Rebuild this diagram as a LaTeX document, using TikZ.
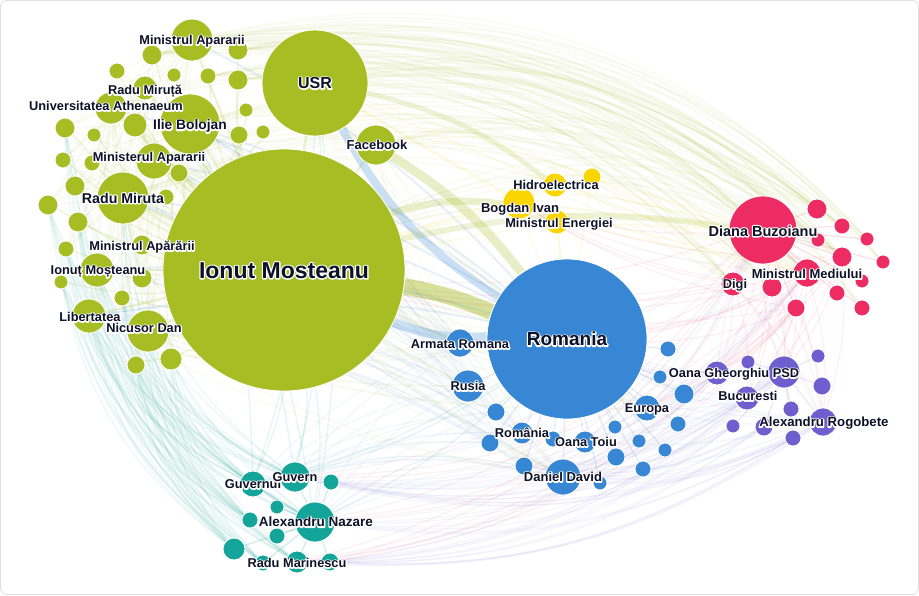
\documentclass[tikz,border=0pt]{standalone}
\usepackage{fontspec}
\setmainfont{Liberation Sans}
\definecolor{cG}{RGB}{166,190,36}
\definecolor{cY}{RGB}{250,214,0}
\definecolor{cP}{RGB}{236,44,98}
\definecolor{cB}{RGB}{55,135,212}
\definecolor{cV}{RGB}{111,94,206}
\definecolor{cT}{RGB}{20,165,154}
\definecolor{cTx}{RGB}{14,18,40}
\pgfdeclarelayer{bg}
\pgfdeclarelayer{edges}
\pgfsetlayers{bg,edges,main}
\tikzset{
  nd/.style={circle,inner sep=0pt,minimum size={2*#1*1pt},draw=white,line width=0.8pt},
  lbl/.style={inner sep=0pt,text=cTx,anchor=base},
  eG/.style={draw=cG,line width=1.4pt,opacity=0.08},
  eB/.style={draw=cB,line width=1.4pt,opacity=0.08},
  eP/.style={draw=cP,line width=1.2pt,opacity=0.07},
  eV/.style={draw=cV,line width=1.2pt,opacity=0.06},
  eT/.style={draw=cT,line width=1.4pt,opacity=0.07},
  eY/.style={draw=cY,line width=1.4pt,opacity=0.10},
}
\newcommand\halo[1]{\leavevmode\rlap{\special{pdf:literal direct q 1 Tr 2.6 w 1 j 1 1 1 RG}#1\special{pdf:literal direct Q}}#1}
\newcommand\cn[4]{\node[nd=#4,fill=#1] (#2) at (#3) {};}
\newcommand\lb[4]{\node[lbl,font=\bfseries\fontsize{#3}{#3}\selectfont,yshift={-0.36*#3pt}] (#1) at (#2) {\halo{#4}};}
\begin{document}
\begin{tikzpicture}[x=1pt,y=-1pt]
\useasboundingbox (0,0) rectangle (919,595);
\begin{pgfonlayer}{bg}
\fill[white] (0,0) rectangle (919,595);
\draw[black!12,line width=0.8pt,rounded corners=6pt] (0.5,0.5) rectangle (918.5,594.5);
\end{pgfonlayer}
% ---------- green ----------
\cn{cG}{g1}{152,55}{10}
\cn{cG}{g2}{117,71}{8}
\cn{cG}{g3}{174,75}{7}
\cn{cG}{g4}{208,76}{8}
\cn{cG}{g5}{238,50}{10}
\cn{cG}{g6}{238,80}{10}
\cn{cG}{g7}{246,110}{7}
\cn{cG}{g8}{239,135}{9}
\cn{cG}{g9}{263,132}{7}
\cn{cG}{g10}{65,128}{10}
\cn{cG}{g11}{94,135}{7}
\cn{cG}{g12}{135,125}{12}
\cn{cG}{g13}{63,160}{8}
\cn{cG}{g14}{92,163}{8}
\cn{cG}{g15}{179,173}{9}
\cn{cG}{g16}{75,186}{10}
\cn{cG}{g17}{48,205}{10}
\cn{cG}{g18}{78,222}{10}
\cn{cG}{g19}{66,249}{8}
\cn{cG}{g20}{166,197}{8}
\cn{cG}{g21}{142,278}{10}
\cn{cG}{g22}{122,298}{8}
\cn{cG}{g23}{171,359}{11}
\cn{cG}{g24}{136,365}{9}
\cn{cG}{g25}{61,282}{7}
\cn{cG}{MA}{192,40}{21}
\cn{cG}{RMt}{145,88}{12}
\cn{cG}{UA}{111,108}{16}
\cn{cG}{IB}{190,124}{30}
\cn{cG}{MeA}{154,161}{18}
\cn{cG}{RM}{123,198}{26}
\cn{cG}{MAp}{142,245}{10}
\cn{cG}{IMo}{97,270}{17}
\cn{cG}{LIB}{89,316}{17}
\cn{cG}{NDn}{148,331}{21}
\cn{cG}{USR}{315,83}{53}
\cn{cG}{FB}{376,145}{20}
\cn{cG}{IM}{284,270}{121}
% ---------- yellow ----------
\cn{cY}{HE}{555,185}{12}
\cn{cY}{Y2}{592,177}{9}
\cn{cY}{BI}{519,203}{16}
\cn{cY}{ME}{557,222}{12}
% ---------- pink ----------
\cn{cP}{DB}{763,230}{34}
\cn{cP}{p1}{817,209}{10}
\cn{cP}{p2}{842,226}{8}
\cn{cP}{p3}{867,239}{7}
\cn{cP}{p4}{883,262}{7}
\cn{cP}{p5}{818,240}{7}
\cn{cP}{p6}{842,257}{10}
\cn{cP}{MM}{807,273}{14}
\cn{cP}{p7}{862,281}{7}
\cn{cP}{p8}{772,287}{10}
\cn{cP}{DG}{733,284}{12}
\cn{cP}{p9}{837,293}{8}
\cn{cP}{p10}{796,308}{9}
\cn{cP}{p11}{862,308}{8}
% ---------- blue ----------
\cn{cB}{RO}{567,339}{80}
\cn{cB}{AR}{460,343}{14}
\cn{cB}{RU}{468,386}{16}
\cn{cB}{b1}{496,412}{9}
\cn{cB}{RA}{522,433}{11}
\cn{cB}{b2}{490,443}{9}
\cn{cB}{b3}{553,439}{8}
\cn{cB}{OT}{585,442}{11}
\cn{cB}{b4}{615,427}{7}
\cn{cB}{b5}{616,457}{9}
\cn{cB}{b6}{524,466}{9}
\cn{cB}{DD}{563,477}{18}
\cn{cB}{b7}{600,483}{7}
\cn{cB}{b8}{639,441}{7}
\cn{cB}{b9}{643,469}{8}
\cn{cB}{b10}{665,450}{7}
\cn{cB}{b11}{668,349}{8}
\cn{cB}{b12}{660,377}{7}
\cn{cB}{b13}{684,394}{10}
\cn{cB}{EU}{647,408}{13}
\cn{cB}{b14}{678,424}{8}
% ---------- purple ----------
\cn{cV}{OG}{717,373}{12}
\cn{cV}{q1}{748,362}{7}
\cn{cV}{PSD}{784,372}{16}
\cn{cV}{q2}{818,356}{7}
\cn{cV}{q3}{822,386}{9}
\cn{cV}{BU}{747,398}{12}
\cn{cV}{q4}{791,409}{8}
\cn{cV}{q5}{733,426}{7}
\cn{cV}{q6}{764,427}{9}
\cn{cV}{AG}{823,422}{14}
\cn{cV}{q7}{793,438}{8}
% ---------- teal ----------
\cn{cT}{GU}{253,484}{13}
\cn{cT}{GV}{295,477}{15}
\cn{cT}{t1}{331,482}{8}
\cn{cT}{t2}{277,507}{7}
\cn{cT}{t3}{250,520}{8}
\cn{cT}{AN}{315,522}{20}
\cn{cT}{t4}{277,536}{8}
\cn{cT}{t5}{234,549}{11}
\cn{cT}{t6}{263,563}{8}
\cn{cT}{RMa}{297,562}{11}
\cn{cT}{t7}{330,562}{9}
% ---------- edges ----------
\begin{pgfonlayer}{edges}
% green cluster
\foreach \i in {1,...,25} \draw[eG,opacity=.16] (IM) to[bend left=8] (g\i);
\foreach \n in {MA,RMt,UA,IB,MeA,RM,MAp,IMo,LIB,NDn,USR,FB}
  \draw[eG,opacity=.2,line width=2.5pt] (IM) -- (\n);
\foreach \a in {IB,RM,MeA,UA,RMt,MA}
  \foreach \b in {g1,g2,g10,g13,g16,g17,g18,g19,g21,g22,g23,g24,IMo,LIB,NDn}
    \draw[eG,opacity=.06] (\a) -- (\b);
% green arcs across the top towards the pink cluster
\foreach \a in {MA,USR,FB,IB,g5,g6,g1,g4,IM,MeA,RM}
  \foreach \b in {DB,p1,p2,p6,MM,DG,p8,p5}
    \draw[eG,opacity=.06] (\a) to[bend left=24] (\b);
\foreach \a in {MA,g1,g5,USR,UA}
  \foreach \b in {p3,p4,p7,p11}
    \draw[eG,opacity=.06] (\a) to[bend left=30] (\b);
% green towards the blue cluster
\foreach \a in {IB,RM,MeA,UA,g12,g15,NDn,LIB,USR,FB}
  \foreach \b in {RO,AR,RU,EU,DD}
    \draw[eG,opacity=.05] (\a) to[bend right=10] (\b);
% thick bands
\draw[cG,opacity=.45,line width=16pt] (IM) to[bend left=6] (RO);
\draw[cB,opacity=.25,line width=9pt] (IM) to[bend right=12] (RO);
\draw[cB,opacity=.25,line width=8pt] (USR) to[bend right=14] (RO);
\draw[cG,opacity=.25,line width=9pt] (FB) to[bend left=10] (RO);
\draw[cG,opacity=.22,line width=7pt] (IM) to[bend left=12] (BI);
\draw[cG,opacity=.18,line width=6pt] (IM) to[bend left=10] (DB);
\draw[cG,opacity=.18,line width=5pt] (USR) to[bend left=12] (HE);
% blue
\foreach \b in {AR,RU,RA,OT,DD,EU,b1,b2,b3,b4,b5,b6,b7,b8,b9,b10,b11,b12,b13,b14}
  \draw[eB,opacity=.15] (RO) -- (\b);
\foreach \b in {IB,RM,MeA,MA,UA,LIB,IMo}
  \draw[eB,opacity=.12,line width=2pt] (RO) to[bend right=10] (\b);
\foreach \a in {AR,RU,RA,DD,b1,b2,b6}
  \foreach \b in {IB,RM,MeA,LIB,IMo,NDn,GU,AN,GV}
    \draw[eB,opacity=.05] (\a) to[bend right=12] (\b);
\foreach \a in {RO,EU,DD,OT}
  \foreach \b in {OG,PSD,BU,AG,DB,MM}
    \draw[eB,opacity=.06] (\a) to[bend right=8] (\b);
% yellow
\foreach \a in {HE,BI,ME,Y2}
  \foreach \b in {IM,RO,DB,USR,MM}
    \draw[eY] (\a) -- (\b);
% pink
\foreach \b in {p1,p2,p3,p4,p5,p6,MM,p7,p8,DG,p9,p10,p11}
  \draw[eP,opacity=.15] (DB) -- (\b);
\foreach \a in {DB,MM,p8,p10,DG,p6}
  \foreach \b in {RO,OG,PSD,AG,EU,BU,IM,BI}
    \draw[eP] (\a) to[bend left=10] (\b);
\foreach \a in {DB,MM,p10}
  \foreach \b in {AN,RMa,t7,GV}
    \draw[eP] (\a) to[bend left=20] (\b);
% purple
\foreach \b in {OG,q1,q2,q3,BU,q4,q5,q6,AG,q7}
  \draw[eV,opacity=.15] (PSD) -- (\b);
\foreach \a in {AG,PSD,q7,q6,q5,BU,OG}
  \foreach \b in {AN,RMa,t7,t1,GV,DD,b6}
    \draw[eV] (\a) to[bend left=18] (\b);
\foreach \a in {AG,PSD,OG}
  \foreach \b in {IM,RO,DB}
    \draw[eV] (\a) to[bend left=10] (\b);
% teal
\foreach \b in {GU,GV,t1,t2,t3,t4,t5,t6,RMa,t7}
  \draw[eT,opacity=.18] (AN) -- (\b);
\foreach \a in {GU,GV,AN,t3,t5,RMa,t6}
  \foreach \b in {LIB,IMo,g19,g17,g18,RM,g10,NDn,g24,g23,g22,g25}
    \draw[eT] (\a) to[bend left=20] (\b);
\foreach \a in {AN,GV,GU}
  \foreach \b in {IM,RO,USR,IB}
    \draw[eT,opacity=.1] (\a) to[bend right=8] (\b);
\end{pgfonlayer}
% ---------- labels ----------
\lb{lMA}{192,40}{12.8}{Ministrul Apararii}
\lb{lRMt}{145,90}{12.8}{Radu Miruță}
\lb{lUA}{106,106}{12.8}{Universitatea Athenaeum}
\lb{lIB}{190,125}{13.8}{Ilie Bolojan}
\lb{lMeA}{149,157}{12.8}{Ministerul Apararii}
\lb{lRM}{123,198}{14.2}{Radu Miruta}
\lb{lMAp}{142,246}{12.8}{Ministrul Apărării}
\lb{lIMo}{98,270}{12.8}{Ionuț Moșteanu}
\lb{lLIB}{90,317}{12.8}{Libertatea}
\lb{lND}{144,328}{12.8}{Nicusor Dan}
\lb{lIM}{284,270}{23}{Ionut Mosteanu}
\lb{lUSR}{315,83}{16}{USR}
\lb{lFB}{377,145}{13}{Facebook}
\lb{lHE}{556,185}{12.8}{Hidroelectrica}
\lb{lBI}{520,208}{13}{Bogdan Ivan}
\lb{lME}{559,223}{12.8}{Ministrul Energiei}
\lb{lDB}{763,231}{14.5}{Diana Buzoianu}
\lb{lMM}{807,274}{13}{Ministrul Mediului}
\lb{lDG}{735,284}{12.8}{Digi}
\lb{lRO}{567,339}{19}{Romania}
\lb{lAR}{460,344}{12.8}{Armata Romana}
\lb{lRU}{468,386}{12.8}{Rusia}
\lb{lRA}{522,433}{12.8}{România}
\lb{lOT}{586,442}{12.8}{Oana Toiu}
\lb{lDD}{563,477}{13}{Daniel David}
\lb{lEU}{647,408}{12.8}{Europa}
\lb{lOG}{734,373}{12.8}{Oana Gheorghiu PSD}
\lb{lBU}{748,396}{12.8}{Bucuresti}
\lb{lAG}{824,422}{13.2}{Alexandru Rogobete}
\lb{lGU}{253,484}{12.8}{Guvernui}
\lb{lGV}{295,477}{12.8}{Guvern}
\lb{lAN}{316,522}{13.5}{Alexandru Nazare}
\lb{lRMa}{297,563}{12.8}{Radu Marinescu}
\end{tikzpicture}
\end{document}
